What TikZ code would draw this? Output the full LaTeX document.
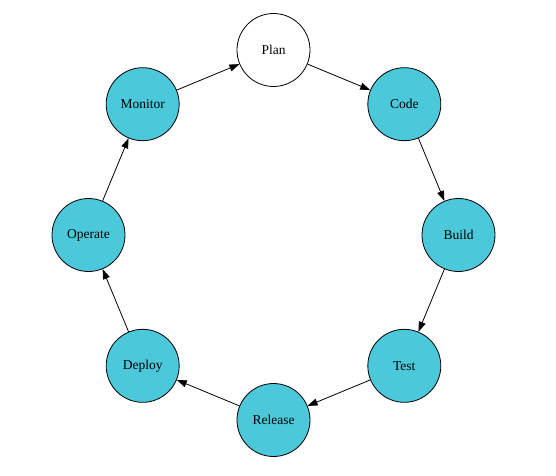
\documentclass[tikz,border=0pt]{standalone}
\usepackage{fontspec}
\setmainfont{Liberation Serif}
\usetikzlibrary{arrows.meta}
\definecolor{opscyan}{RGB}{75,200,218}

\begin{document}
\begin{tikzpicture}[x=1pt,y=1pt,->,>={Triangle[length=10pt,width=7pt]},auto,
        line width=0.8pt,base node/.style={circle,draw,minimum size=73pt,inner sep=0pt,font=\fontsize{13.5}{15}\selectfont},
        ops node/.style={base node,fill=opscyan}]
        \useasboundingbox (0,0) rectangle (556,475);
        \begin{scope}[shift={(273.5,240)}]
        \node[base node] (1) at (90:185) {Plan};
        \node[ops node] (2) at (45:185) {Code};
        \node[ops node] (3) at (0:185) {Build};
        \node[ops node] (4) at (-45:185) {Test};
        \node[ops node] (5) at (-90:185) {Release};
        \node[ops node] (6) at (-135:185) {Deploy};
        \node[ops node] (7) at (180:185) {Operate};
        \node[ops node] (8) at (135:185) {Monitor};
        \end{scope}

        \path[]
        (1) edge (2)
        (2) edge (3)
        (3) edge (4)
        (4) edge (5)
        (5) edge (6)
        (6) edge (7)
        (7) edge (8)
        (8) edge (1);
    \end{tikzpicture}
\end{document}
